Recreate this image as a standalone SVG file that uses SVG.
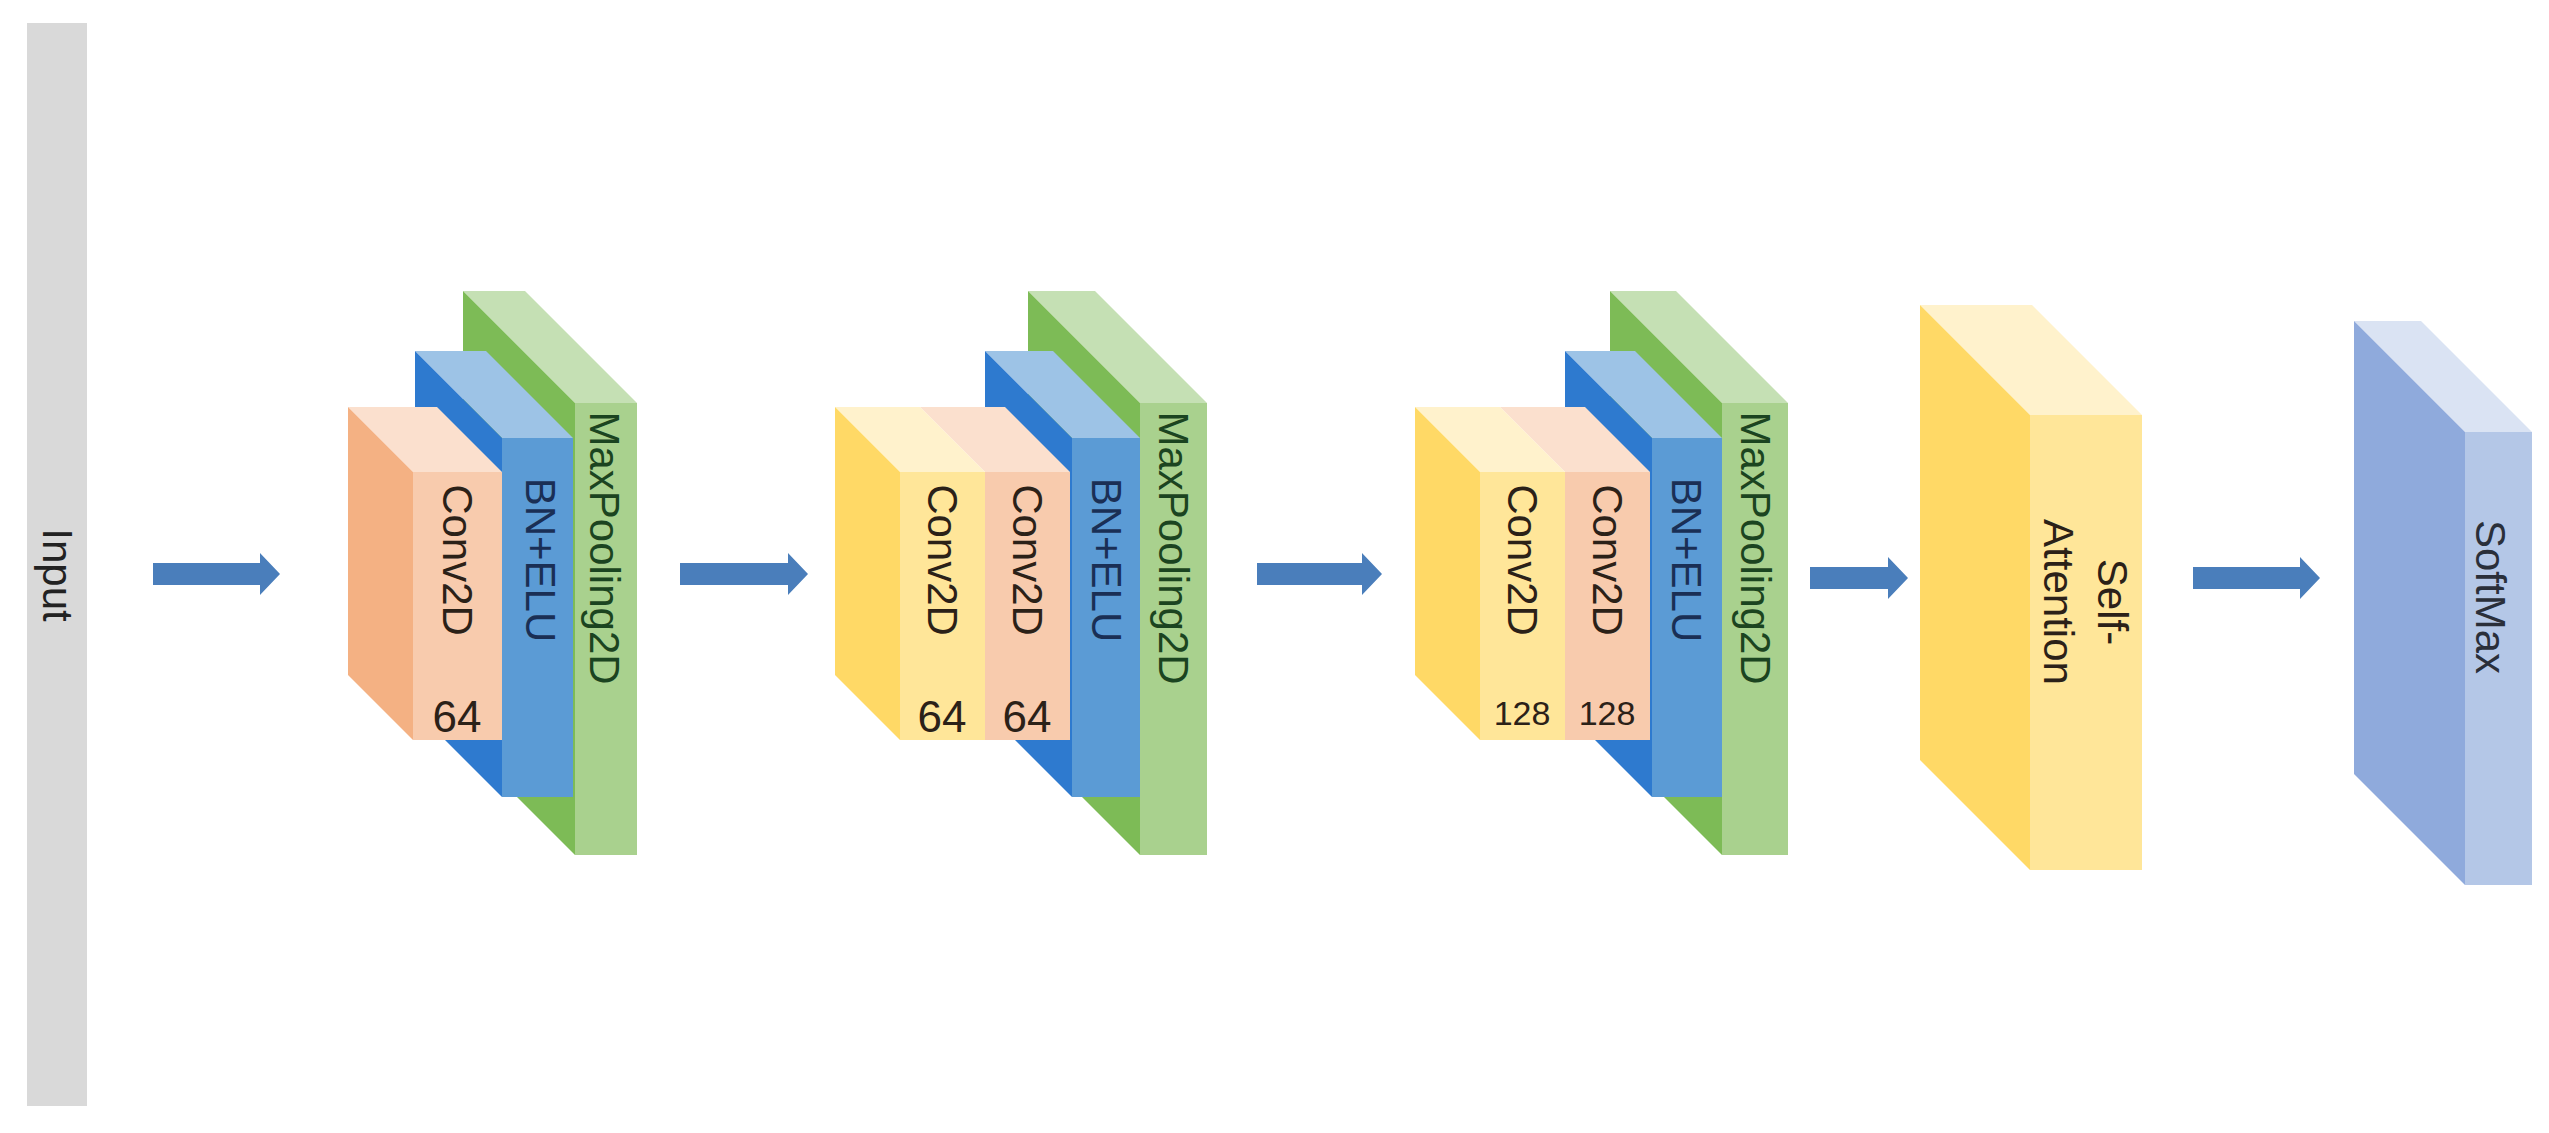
<svg xmlns="http://www.w3.org/2000/svg" width="2549" height="1133" viewBox="0 0 2549 1133">
<style>
text{font-family:"Liberation Sans",Arial,sans-serif;font-size:42px}
.v{text-anchor:middle;dominant-baseline:central}
.n{text-anchor:middle;font-size:44px;fill:#2b2118}
.n3{text-anchor:middle;font-size:34px;fill:#2b2118}
.arrow{fill:#4A7EBB}
.gT{fill:#C5E0B4}.gS{fill:#7DBB56}.gF{fill:#A9D18E}
.bT{fill:#9DC3E6}.bS{fill:#2E7ACF}.bF{fill:#5B9BD5}
.oT{fill:#FBE0CE}.oS{fill:#F4B183}.oF{fill:#F8CBAD}
.yT{fill:#FFF2CC}.yS{fill:#FFD966}.yF{fill:#FFE699}
.sT{fill:#DAE3F3}.sS{fill:#8FAADC}.sF{fill:#B4C7E7}
.tc{fill:#2b2118}.tb{fill:#1a2f55}.tg{fill:#1b4420}.ts{fill:#2a2f3a}
</style>
<rect width="2549" height="1133" fill="#fff"/>
<g id="input">
<rect x="27" y="23" width="60" height="1083" fill="#D9D9D9"/>
<text class="v" fill="#222" font-size="44" transform="translate(57,575) rotate(90)">Input</text>
</g>
<g id="connectors">
<path class="arrow" d="M153,563H260V553L280,574L260,595V585H153Z"/>
<path class="arrow" d="M680,563H788V553L808,574L788,595V585H680Z"/>
<path class="arrow" d="M1257,563H1362V553L1382,574L1362,595V585H1257Z"/>
<path class="arrow" d="M1810,567H1888V557L1908,578L1888,599V589H1810Z"/>
<path class="arrow" d="M2193,567H2300V557L2320,578L2300,599V589H2193Z"/>
</g>
<g id="block1">
<polygon class="gT" points="463,291 525,291 637,403 575,403"/>
<polygon class="gS" points="463,291 575,403 575,855 463,743"/>
<rect class="gF" x="575" y="403" width="62" height="452"/>
<polygon class="bT" points="415,351 486,351 573,438 502,438"/>
<polygon class="bS" points="415,351 502,438 502,797 415,710"/>
<rect class="bF" x="502" y="438" width="71" height="359"/>
<polygon class="oT" points="348,407 437,407 502,472 413,472"/>
<polygon class="oS" points="348,407 413,472 413,740 348,675"/>
<rect class="oF" x="413" y="472" width="89" height="268"/>
<text class="v tc" transform="translate(457,560) rotate(90)">Conv2D</text>
<text class="n" x="457" y="732">64</text>
<text class="v tb" transform="translate(540,560) rotate(90)">BN+ELU</text>
<text class="v tg" transform="translate(604,548) rotate(90)">MaxPooling2D</text>
</g>
<g id="block2">
<polygon class="gT" points="1028,291 1095,291 1207,403 1140,403"/>
<polygon class="gS" points="1028,291 1140,403 1140,855 1028,743"/>
<rect class="gF" x="1140" y="403" width="67" height="452"/>
<polygon class="bT" points="985,351 1053,351 1140,438 1072,438"/>
<polygon class="bS" points="985,351 1072,438 1072,797 985,710"/>
<rect class="bF" x="1072" y="438" width="68" height="359"/>
<polygon class="oT" points="920,407 1005,407 1070,472 985,472"/>
<rect class="oF" x="985" y="472" width="85" height="268"/>
<polygon class="yT" points="835,407 920,407 985,472 900,472"/>
<polygon class="yS" points="835,407 900,472 900,740 835,675"/>
<rect class="yF" x="900" y="472" width="85" height="268"/>
<text class="v tc" transform="translate(942,560) rotate(90)">Conv2D</text>
<text class="n" x="942" y="732">64</text>
<text class="v tc" transform="translate(1027,560) rotate(90)">Conv2D</text>
<text class="n" x="1027" y="732">64</text>
<text class="v tb" transform="translate(1106,560) rotate(90)">BN+ELU</text>
<text class="v tg" transform="translate(1173,548) rotate(90)">MaxPooling2D</text>
</g>
<g id="block3">
<polygon class="gT" points="1610,291 1676,291 1788,403 1722,403"/>
<polygon class="gS" points="1610,291 1722,403 1722,855 1610,743"/>
<rect class="gF" x="1722" y="403" width="66" height="452"/>
<polygon class="bT" points="1565,351 1635,351 1722,438 1652,438"/>
<polygon class="bS" points="1565,351 1652,438 1652,797 1565,710"/>
<rect class="bF" x="1652" y="438" width="70" height="359"/>
<polygon class="oT" points="1500,407 1585,407 1650,472 1565,472"/>
<rect class="oF" x="1565" y="472" width="85" height="268"/>
<polygon class="yT" points="1415,407 1500,407 1565,472 1480,472"/>
<polygon class="yS" points="1415,407 1480,472 1480,740 1415,675"/>
<rect class="yF" x="1480" y="472" width="85" height="268"/>
<text class="v tc" transform="translate(1522,560) rotate(90)">Conv2D</text>
<text class="n3" x="1522" y="725">128</text>
<text class="v tc" transform="translate(1607,560) rotate(90)">Conv2D</text>
<text class="n3" x="1607" y="725">128</text>
<text class="v tb" transform="translate(1686,560) rotate(90)">BN+ELU</text>
<text class="v tg" transform="translate(1755,548) rotate(90)">MaxPooling2D</text>
</g>
<g id="self-attention">
<polygon class="yT" points="1920,305 2032,305 2142,415 2030,415"/>
<polygon class="yS" points="1920,305 2030,415 2030,870 1920,760"/>
<rect class="yF" x="2030" y="415" width="112" height="455"/>
<text class="v tc" transform="translate(2112,602) rotate(90)">Self-</text>
<text class="v tc" transform="translate(2058,602) rotate(90)">Attention</text>
</g>
<g id="softmax">
<polygon class="sT" points="2354,321 2421,321 2532,432 2465,432"/>
<polygon class="sS" points="2354,321 2465,432 2465,885 2354,774"/>
<rect class="sF" x="2465" y="432" width="67" height="453"/>
<text class="v ts" transform="translate(2490,597) rotate(90)">SoftMax</text>
</g>
</svg>
